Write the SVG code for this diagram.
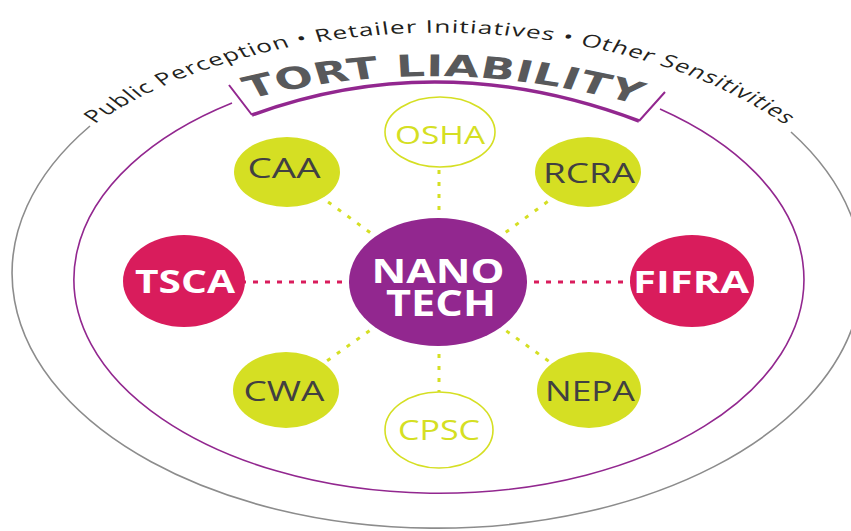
<svg xmlns="http://www.w3.org/2000/svg" width="851" height="531" viewBox="0 0 851 531">
<style>
  .yl { fill:#d5df23; }
  .cr { fill:#d91c5c; }
  .pu { fill:#92278f; }
  .outl { fill:#ffffff; stroke:#d5df23; stroke-width:1.6; }
  .wb { font-family:"Open Sans","Liberation Sans",sans-serif; font-weight:700; fill:#ffffff; text-anchor:middle; }
  .dk { font-family:"Open Sans","Liberation Sans",sans-serif; fill:#414042; text-anchor:middle; }
  .yt { font-family:"Open Sans","Liberation Sans",sans-serif; fill:#d5df23; text-anchor:middle; }
  .cy { fill:none; stroke:#d5df23; stroke-width:3; stroke-dasharray:4 8; }
  .cc { fill:none; stroke:#d91c5c; stroke-width:3; stroke-dasharray:5 7; }
</style>
<defs>
  <path id="outerPath" d="M 63.3,124 A 293.33 242 0 0 1 528,130"/>
  <path id="tortPath" d="M 166.7,99 Q 298.7,48 440,111"/>
</defs>
<rect width="851" height="531" fill="#ffffff"/>

<g id="frame">
  <path d="M 90,126 A 425 255 0 1 0 791,132" fill="none" stroke="#8c8c8c" stroke-width="1.6"/>
  <path d="M 232,103 A 365 214 0 1 0 660,109" fill="none" stroke="#92278f" stroke-width="1.6"/>
  <path d="M 229,85 L 252,115 M 639,121 L 665,92" fill="none" stroke="#92278f" stroke-width="2"/>
  <path d="M 252,115 Q 440,46 639,121" fill="none" stroke="#92278f" stroke-width="3.5"/>
  <g transform="scale(1.5,1)">
    <text font-family="'Open Sans','Liberation Sans',sans-serif" font-size="17.5" fill="#231f20"><textPath href="#outerPath" textLength="508">Public Perception • Retailer Initiatives • Other Sensitivities</textPath></text>
    <text font-family="'DejaVu Sans','Liberation Sans',sans-serif" font-weight="700" font-size="30" fill="#58595b"><textPath href="#tortPath" textLength="264">TORT LIABILITY</textPath></text>
  </g>
</g>

<g id="connectors">
  <line class="cc" x1="438" y1="282" x2="184" y2="282"/>
  <line class="cc" x1="438" y1="282" x2="692" y2="282"/>
  <line class="cy" x1="438" y1="282" x2="287" y2="172"/>
  <line class="cy" x1="438" y1="282" x2="588" y2="172"/>
  <line class="cy" x1="438" y1="282" x2="286" y2="390"/>
  <line class="cy" x1="438" y1="282" x2="589" y2="390"/>
  <line class="cy" x1="439" y1="282" x2="439" y2="132"/>
  <line class="cy" x1="439" y1="282" x2="439" y2="430"/>
</g>

<g id="node-nanotech">
  <ellipse class="pu" cx="438" cy="282" rx="89" ry="64"/>
  <text class="wb" x="438" y="283" font-size="34" textLength="133" lengthAdjust="spacingAndGlyphs">NANO</text>
  <text class="wb" x="441" y="316" font-size="35" textLength="110" lengthAdjust="spacingAndGlyphs">TECH</text>
</g>
<g id="node-tsca">
  <ellipse class="cr" cx="184" cy="281" rx="61" ry="46"/>
  <text class="wb" x="185" y="293" font-size="32" textLength="100" lengthAdjust="spacingAndGlyphs">TSCA</text>
</g>
<g id="node-fifra">
  <ellipse class="cr" cx="692" cy="281" rx="62" ry="46"/>
  <text class="wb" x="691" y="293" font-size="31" textLength="116" lengthAdjust="spacingAndGlyphs">FIFRA</text>
</g>
<g id="node-caa">
  <ellipse class="yl" cx="287" cy="172" rx="53" ry="35"/>
  <text class="dk" x="284" y="178" font-size="28" textLength="73" lengthAdjust="spacingAndGlyphs">CAA</text>
</g>
<g id="node-rcra">
  <ellipse class="yl" cx="588" cy="172" rx="53" ry="35"/>
  <text class="dk" x="589" y="183" font-size="28" textLength="92" lengthAdjust="spacingAndGlyphs">RCRA</text>
</g>
<g id="node-cwa">
  <ellipse class="yl" cx="286" cy="390" rx="53" ry="38"/>
  <text class="dk" x="284" y="401" font-size="28" textLength="81" lengthAdjust="spacingAndGlyphs">CWA</text>
</g>
<g id="node-nepa">
  <ellipse class="yl" cx="589" cy="390" rx="52" ry="38"/>
  <text class="dk" x="590" y="401" font-size="28" textLength="90" lengthAdjust="spacingAndGlyphs">NEPA</text>
</g>
<g id="node-osha">
  <ellipse class="outl" cx="440" cy="132" rx="55" ry="35"/>
  <text class="yt" x="440" y="144" font-size="25" textLength="90" lengthAdjust="spacingAndGlyphs">OSHA</text>
</g>
<g id="node-cpsc">
  <ellipse class="outl" cx="439" cy="430" rx="54" ry="38"/>
  <text class="yt" x="439" y="440" font-size="27" textLength="82" lengthAdjust="spacingAndGlyphs">CPSC</text>
</g>
</svg>
